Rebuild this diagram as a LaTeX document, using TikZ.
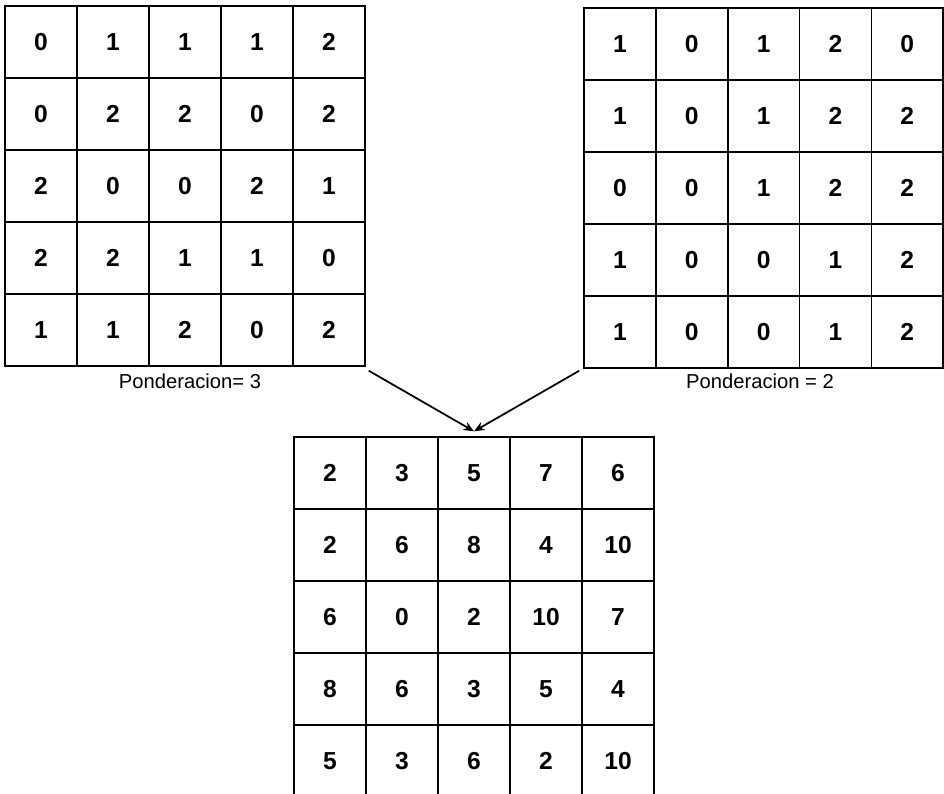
\documentclass[tikz,border=0pt]{standalone}
\usepackage{fontspec}
\setmainfont{Liberation Sans}
\usetikzlibrary{positioning, calc}
\usetikzlibrary{arrows.meta}

\tikzset{
  cell/.style = {draw, line width=0.8pt, minimum size=1.44cm, inner sep=0pt,
                 font=\bfseries\fontsize{14}{14}\selectfont},
  peso/.style = {font=\fontsize{11.5}{13}\selectfont},
  flecha/.style = {line width=1pt, -{Stealth[length=6pt,width=5pt]}}
}

\begin{document}
\begin{tikzpicture}[x=0.02cm, y=-0.02cm]
  \useasboundingbox (0,0) rectangle (944,794);
  % matriz con ponderacion 3
  \foreach \fila [count=\i] in {{0,1,1,1,2},{0,2,2,0,2},{2,0,0,2,1},{2,2,1,1,0},{1,1,2,0,2}}
    \foreach \v [count=\j] in \fila
      \node[cell] (A-\i-\j) at ({41+72*(\j-1)}, {42+72*(\i-1)}) {\v};
  % matriz con ponderacion 2
  \foreach \fila [count=\i] in {{1,0,1,2,0},{1,0,1,2,2},{0,0,1,2,2},{1,0,0,1,2},{1,0,0,1,2}}
    \foreach \v [count=\j] in \fila
      \node[cell] (B-\i-\j) at ({620+71.8*(\j-1)}, {44+72*(\i-1)}) {\v};
  % resultado
  \foreach \fila [count=\i] in {{2,3,5,7,6},{2,6,8,4,10},{6,0,2,10,7},{8,6,3,5,4},{5,3,6,2,10}}
    \foreach \v [count=\j] in \fila
      \node[cell] (C-\i-\j) at ({330+72*(\j-1)}, {473+72*(\i-1)}) {\v};

  \node[peso] (pA) at (190,381) {Ponderacion= 3};
  \node[peso] (pB) at (760,381) {Ponderacion = 2};

  \draw[flecha] ($(A-5-5.south east)+(3,4)$) -- ($(C-1-3.north)+(0,-5)$);
  \draw[flecha] ($(B-5-1.south west)+(-4,2)$) -- ($(C-1-3.north)+(0,-5)$);
\end{tikzpicture}
\end{document}
